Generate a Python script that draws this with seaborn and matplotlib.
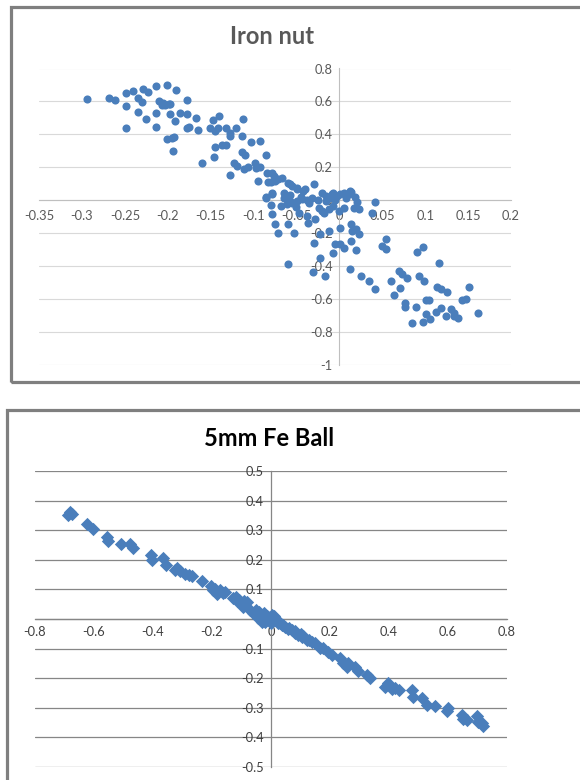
import matplotlib
matplotlib.use("Agg")
import matplotlib.pyplot as plt
import pandas as pd
import seaborn as sns
from matplotlib.patches import Rectangle

# ---------------- data ----------------
nut_x = [-0.294, -0.269, -0.262, -0.249, -0.241, -0.249, -0.249, -0.235, -0.235, -0.230,
         -0.229, -0.223, -0.225, -0.214, -0.214, -0.214, -0.210, -0.207, -0.205, -0.203,
         -0.199, -0.201, -0.197, -0.197, -0.201, -0.195, -0.193, -0.194, -0.192, -0.190,
         -0.186, -0.178, -0.177, -0.178, -0.175, -0.167, -0.165, -0.160, -0.151, -0.147,
         -0.145, -0.145, -0.146, -0.141, -0.140, -0.137, -0.132, -0.132, -0.127, -0.127,
         -0.123, -0.127, -0.121, -0.119, -0.113, -0.112, -0.114, -0.110, -0.111, -0.106,
         -0.103, -0.098, -0.097, -0.093, -0.093, -0.095, -0.086, -0.084, -0.080, -0.079,
         -0.076, -0.072, -0.067, -0.060, -0.055, -0.049, -0.040, -0.029, -0.086, -0.079,
         -0.065, -0.083, -0.075, -0.057, -0.049, -0.086, -0.079, -0.080, -0.079, -0.075,
         -0.071, -0.068, -0.061, -0.060, -0.053, -0.060, -0.055, -0.049, -0.044, -0.038,
         -0.032, -0.047, -0.038, -0.036, -0.028, -0.024, -0.030, -0.022, -0.031, -0.017,
         -0.020, -0.016, -0.012, -0.009, -0.007, -0.003, 0.001, 0.005, 0.011, 0.013,
         -0.018, -0.012, -0.007, -0.001, 0.005, -0.022, -0.012, -0.007, -0.005, 0.001,
         0.005, 0.001, 0.013, 0.015, 0.019, 0.023, 0.013, 0.019, 0.012, 0.025,
         0.034, 0.042, 0.017, 0.023, 0.038, 0.042, 0.054, 0.050, 0.054, 0.060,
         0.064, 0.069, 0.073, 0.071, 0.079, 0.077, 0.077, 0.085, 0.089, 0.090,
         0.093, 0.098, 0.099, 0.101, 0.104, 0.098, 0.101, 0.106, 0.113, 0.114,
         0.116, 0.118, 0.118, 0.126, 0.124, 0.130, 0.133, 0.134, 0.138, 0.143,
         0.148, 0.151, 0.161, -0.065, -0.058, -0.045, -0.035, -0.025, -0.015, -0.005,
         0.008, 0.018, 0.020, -0.042, -0.020, 0.012, -0.050, -0.058]
nut_y = [0.617, 0.623, 0.608, 0.653, 0.663, 0.570, 0.438, 0.623, 0.537, 0.596,
         0.677, 0.657, 0.491, 0.693, 0.531, 0.444, 0.600, 0.576, 0.592, 0.576,
         0.582, 0.698, 0.521, 0.586, 0.369, 0.379, 0.385, 0.298, 0.481, 0.669,
         0.531, 0.610, 0.525, 0.436, 0.444, 0.497, 0.424, 0.223, 0.436, 0.487,
         0.420, 0.322, 0.264, 0.440, 0.511, 0.333, 0.335, 0.440, 0.406, 0.389,
         0.223, 0.152, 0.440, 0.207, 0.389, 0.495, 0.292, 0.272, 0.191, 0.201,
         0.353, 0.227, 0.197, 0.359, 0.203, 0.116, 0.272, 0.162, 0.109, 0.166,
         0.146, 0.126, 0.136, 0.105, 0.085, 0.069, 0.069, 0.095, 0.020, 0.045,
         0.045, 0.109, 0.116, 0.095, 0.075, 0.014, 0.034, -0.032, -0.083, -0.148,
         -0.203, -0.036, -0.026, -0.148, -0.199, -0.391, -0.016, -0.006, 0.004, 0.000,
         0.014, -0.077, -0.097, -0.138, -0.118, -0.047, -0.260, -0.351, -0.438, -0.462,
         -0.067, -0.006, 0.014, 0.034, 0.045, 0.024, 0.034, 0.045, 0.034, 0.049,
         -0.077, -0.057, -0.036, -0.067, -0.047, -0.209, -0.189, -0.320, -0.270, -0.270,
         -0.290, -0.168, -0.148, -0.189, -0.178, -0.209, -0.249, -0.304, -0.422, -0.462,
         -0.493, -0.543, -0.047, -0.057, -0.077, -0.012, -0.239, -0.280, -0.296, -0.493,
         -0.580, -0.432, -0.452, -0.533, -0.472, -0.624, -0.649, -0.750, -0.649, -0.316,
         -0.462, -0.284, -0.493, -0.608, -0.608, -0.740, -0.695, -0.726, -0.681, -0.527,
         -0.385, -0.543, -0.655, -0.560, -0.706, -0.665, -0.685, -0.706, -0.716, -0.608,
         -0.604, -0.527, -0.685, 0.010, -0.005, 0.020, -0.020, 0.000, 0.025, 0.000,
         0.010, 0.020, -0.010, 0.055, 0.040, 0.055, -0.045, 0.030]

ball_x = [-0.687, -0.681, -0.676, -0.623, -0.605, -0.557, -0.551, -0.510, -0.478, -0.469,
          -0.407, -0.405, -0.365, -0.357, -0.325, -0.320, -0.308, -0.292, -0.277, -0.269,
          -0.235, -0.205, -0.190, -0.173, -0.156, -0.195, -0.184, -0.162, -0.128, -0.116,
          -0.094, -0.082, -0.071, -0.060, -0.043, -0.032, -0.020, -0.009, 0.002, 0.014,
          0.025, 0.036, 0.047, 0.059, 0.070, 0.081, 0.093, 0.104, 0.121, 0.138,
          0.149, 0.166, 0.177, 0.194, 0.206, 0.234, 0.245, 0.256, 0.262, 0.285,
          0.296, 0.324, 0.336, 0.386, 0.398, 0.409, 0.420, 0.435, 0.477, 0.482,
          0.511, 0.528, 0.556, 0.595, 0.601, 0.646, 0.652, 0.663, 0.697, 0.703,
          0.720, 0.714, -0.050, -0.040, -0.030, -0.025, -0.015, -0.010, 0.000, 0.005,
          0.010, 0.020, 0.030, 0.040, -0.020, -0.030, 0.000, 0.060, 0.080, 0.100,
          0.110, 0.130, -0.120, -0.110, -0.100, -0.090]
ball_y = [0.351, 0.363, 0.354, 0.320, 0.303, 0.278, 0.265, 0.252, 0.253, 0.241,
          0.216, 0.199, 0.205, 0.182, 0.166, 0.173, 0.163, 0.152, 0.149, 0.145,
          0.130, 0.113, 0.101, 0.098, 0.092, 0.098, 0.084, 0.087, 0.070, 0.062,
          0.042, 0.059, 0.030, 0.019, 0.002, -0.009, 0.014, 0.006, 0.014, -0.003,
          -0.012, -0.020, -0.026, -0.035, -0.037, -0.046, -0.054, -0.060, -0.071, -0.077,
          -0.082, -0.099, -0.099, -0.110, -0.122, -0.133, -0.148, -0.163, -0.150, -0.163,
          -0.175, -0.189, -0.200, -0.229, -0.217, -0.238, -0.234, -0.240, -0.240, -0.262,
          -0.268, -0.291, -0.294, -0.310, -0.302, -0.324, -0.339, -0.341, -0.328, -0.347,
          -0.361, -0.352, 0.030, 0.025, 0.015, 0.020, 0.010, 0.000, 0.005, -0.005,
          0.010, -0.005, -0.015, -0.020, -0.010, -0.005, -0.015, -0.030, -0.040, -0.050,
          -0.058, -0.070, 0.075, 0.065, 0.055, 0.060]

nut_xticks = [-0.35, -0.3, -0.25, -0.2, -0.15, -0.1, -0.05, 0, 0.05, 0.1, 0.15, 0.2]
nut_xticklabels = ["-0.35", "-0.3", "-0.25", "-0.2", "-0.15", "-0.1", "-0.05", "0",
                   "0.05", "0.1", "0.15", "0.2"]
nut_yticks = [-1, -0.8, -0.6, -0.4, -0.2, 0, 0.2, 0.4, 0.6, 0.8]
nut_yticklabels = ["-1", "-0.8", "-0.6", "-0.4", "-0.2", "0", "0.2", "0.4", "0.6", "0.8"]

ball_xticks = [-0.8, -0.6, -0.4, -0.2, 0, 0.2, 0.4, 0.6, 0.8]
ball_xticklabels = ["-0.8", "-0.6", "-0.4", "-0.2", "0", "0.2", "0.4", "0.6", "0.8"]
ball_yticks = [-0.5, -0.4, -0.3, -0.2, -0.1, 0, 0.1, 0.2, 0.3, 0.4, 0.5]
ball_yticklabels = ["-0.5", "-0.4", "-0.3", "-0.2", "-0.1", "0", "0.1", "0.2", "0.3",
                    "0.4", "0.5"]

titles = ["Iron nut", "5mm Fe Ball"]

# ---------------- style ----------------
sns.set_style("white")
plt.rcParams['font.family'] = ['Lato', 'DejaVu Sans']

W, H = 580, 780
fig = plt.figure(figsize=(W / 100, H / 100), dpi=100)
fig.patch.set_facecolor("white")

BLUE = "#4a7ebb"

def px_rect(x0, y0, x1, y1):
    return [x0 / W, 1 - y1 / H, (x1 - x0) / W, (y1 - y0) / H]

ax1 = fig.add_axes(px_rect(39, 68.5, 511, 364.5))
ax2 = fig.add_axes(px_rect(35, 471, 507, 767))

nut_df = pd.DataFrame({"x": nut_x, "y": nut_y})
ball_df = pd.DataFrame({"x": ball_x, "y": ball_y})

sns.scatterplot(data=nut_df, x="x", y="y", ax=ax1, color=BLUE, s=34,
                marker="o", edgecolor=BLUE, linewidth=0, zorder=3)
sns.scatterplot(data=ball_df, x="x", y="y", ax=ax2, color=BLUE, s=46,
                marker="D", edgecolor=BLUE, linewidth=0, zorder=3)


def style_axes(ax, xt, xtl, yt, ytl, grid_c, axis_c, lab_c, xtick_len, xpad, ypad, glw):
    ax.set_xlim(xt[0], xt[-1])
    ax.set_ylim(yt[0], yt[-1])
    ax.set_xticks(xt)
    ax.set_xticklabels(xtl)
    ax.set_yticks(yt)
    ax.set_yticklabels(ytl)
    ax.set_xlabel("")
    ax.set_ylabel("")
    ax.set_facecolor("none")
    ax.set_axisbelow(True)
    for s in ["top", "right"]:
        ax.spines[s].set_visible(False)
    ax.spines["left"].set_position(("data", 0))
    ax.spines["bottom"].set_position(("data", 0))
    ax.spines["left"].set_color(axis_c)
    ax.spines["bottom"].set_color(axis_c)
    ax.spines["left"].set_linewidth(glw)
    ax.spines["bottom"].set_linewidth(glw)
    ax.yaxis.grid(True, color=grid_c, linewidth=glw)
    ax.xaxis.grid(False)
    ax.tick_params(axis="y", length=0, pad=ypad, labelsize=9.3, labelcolor=lab_c)
    ax.tick_params(axis="x", length=xtick_len, width=glw, color=axis_c, direction="out",
                   pad=xpad, labelsize=9.3, labelcolor=lab_c)


style_axes(ax1, nut_xticks, nut_xticklabels, nut_yticks, nut_yticklabels,
           "#d9d9d9", "#bfbfbf", "#595959", 0, 7.5, 5, 0.8)
style_axes(ax2, ball_xticks, ball_xticklabels, ball_yticks, ball_yticklabels,
           "#868686", "#868686", "#404040", 3, 2, 5, 0.9)

# titles
fig.text(272 / W, 1 - 37 / H, titles[0], ha="center", va="center",
         fontsize=17, fontweight="bold", color="#595959")
fig.text(269 / W, 1 - 438 / H, titles[1], ha="center", va="center",
         fontsize=17, fontweight="bold", color="black")

# chart frames
fig.add_artist(Rectangle((10.5 / W, 1 - 381.5 / H), (620 - 10.5) / W, (381.5 - 6.5) / H,
                         transform=fig.transFigure, fill=False, edgecolor="#7f7f7f",
                         linewidth=2.3))
fig.add_artist(Rectangle((6.5 / W, 1 - 820 / H), (620 - 6.5) / W, (820 - 410) / H,
                         transform=fig.transFigure, fill=False, edgecolor="#7f7f7f",
                         linewidth=2.3))

fig.savefig("out.png", dpi=100, facecolor="white")
